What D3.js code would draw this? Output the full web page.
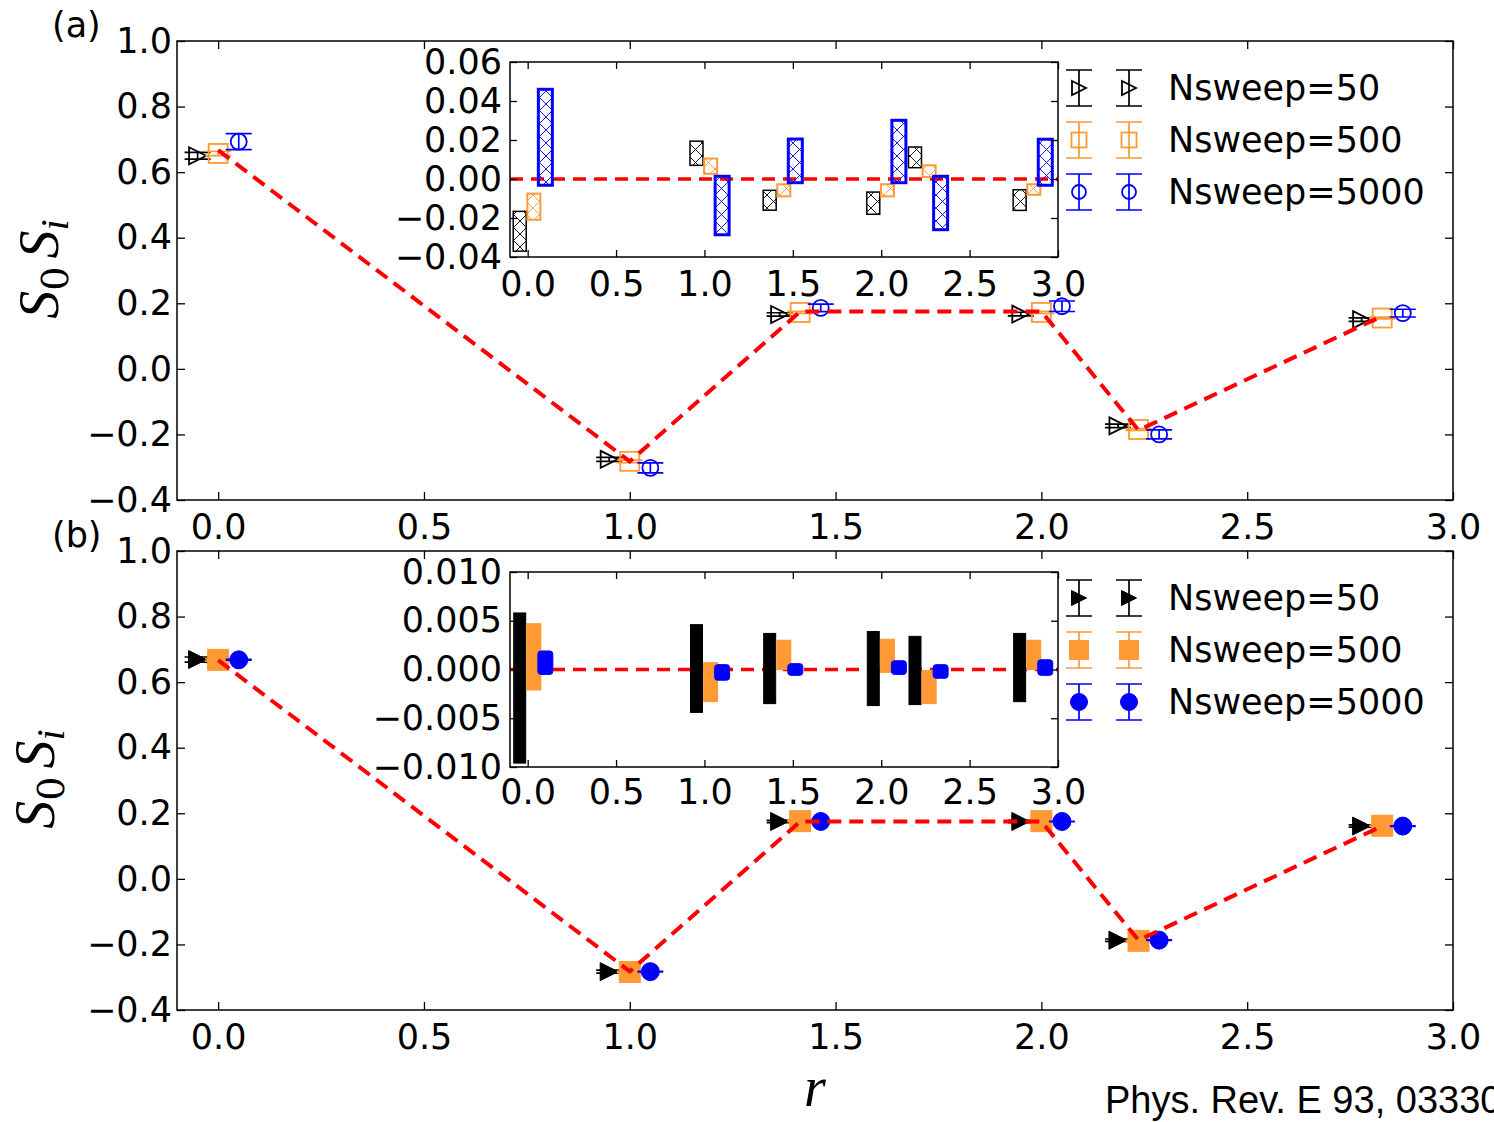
<!DOCTYPE html>
<html>
<head>
<meta charset="utf-8">
<script src="https://cdn.jsdelivr.net/npm/d3@7"></script>
<style>
body { margin: 0; background: #fff; }
svg { display: block; }
</style>
</head>
<body>
<svg width="1494" height="1122"></svg>
<script>
// distances r of the neighbour shells
var rValues = [0, 1, 1.414, 2, 2.236, 2.828];
var seriesNames = ["Nsweep=50", "Nsweep=500", "Nsweep=5000"];

// exact correlation (red dashed line)
var exact = [0.667, -0.282, 0.175, 0.175, -0.187, 0.161];

// panel (a) main values
var a50 = [0.650, -0.276, 0.166, 0.167, -0.174, 0.150];
var a500 = [0.657, -0.282, 0.172, 0.172, -0.185, 0.155];
var a5000 = [0.693, -0.302, 0.186, 0.191, -0.200, 0.170];
// panel (a) inset: deviation from exact, and error
var aDev50 = [-0.0268, 0.0132, -0.0109, -0.0124, 0.0111, -0.0108];
var aErr50 = [0.0102, 0.0062, 0.0051, 0.0057, 0.0053, 0.0053];
var aDev500 = [-0.0142, 0.0066, -0.0058, -0.0058, 0.0040, -0.0054];
var aErr500 = [0.0067, 0.0039, 0.0031, 0.0031, 0.0030, 0.0027];
var aDev5000 = [0.0214, -0.0136, 0.0093, 0.0141, -0.0123, 0.0086];
var aErr5000 = [0.0246, 0.0150, 0.0112, 0.0160, 0.0137, 0.0118];

// panel (b) main values
var b50 = [0.669, -0.283, 0.175, 0.175, -0.187, 0.161];
var b500 = [0.668, -0.284, 0.176, 0.176, -0.189, 0.162];
var b5000 = [0.668, -0.283, 0.175, 0.175, -0.187, 0.161];
// panel (b) inset
var bDev50 = [-0.0019, 0.0001, 0.0001, 0.0001, -0.0001, 0.0002];
var bErr50 = [0.0077, 0.0045, 0.0036, 0.0038, 0.0035, 0.0035];
var bDev500 = [0.0013, -0.0013, 0.0015, 0.0014, -0.0018, 0.0015];
var bErr500 = [0.0034, 0.0020, 0.0015, 0.0017, 0.0017, 0.0015];
var bDev5000 = [0.0007, -0.0003, 0.0000, 0.0002, -0.0002, 0.0002];
var bErr5000 = [0.0012, 0.0008, 0.0006, 0.0007, 0.0007, 0.0008];

var xTicks = [0, 0.5, 1, 1.5, 2, 2.5, 3];
var yTicksMain = [-0.4, -0.2, 0, 0.2, 0.4, 0.6, 0.8, 1.0];
var yTicksInsetA = [-0.04, -0.02, 0, 0.02, 0.04, 0.06];
var yTicksInsetB = [-0.01, -0.005, 0, 0.005, 0.01];

var colors = ["#000000", "#ff9933", "#0000ff"];
var kinds = ["tri", "sq", "circ"];
var FONT = "DejaVu Sans";
var FS = 35;

var svg = d3.select("svg");

// hatch patterns for the inset of (a)
var defs = svg.append("defs");
colors.forEach(function(c, i) {
  var pat = defs.append("pattern")
      .attr("id", "hatch" + i)
      .attr("patternUnits", "userSpaceOnUse")
      .attr("width", 13).attr("height", 13);
  pat.append("path")
      .attr("d", "M0,0L13,13M13,0L0,13")
      .attr("stroke", c).attr("stroke-width", 0.9).attr("fill", "none");
});

var x = d3.scaleLinear().domain([-0.1, 3.0]).range([177, 1453]);
var xi = d3.scaleLinear().domain([-0.1, 3.0]).range([510, 1058]);

function marker(sel, kind, cx, cy, color, filled, s) {
  var m;
  if (kind === "tri") {
    m = sel.append("path")
        .attr("d", "M" + (cx - s / 2) + "," + (cy - s / 2) + "L" + (cx + s / 2) + "," + cy +
                   "L" + (cx - s / 2) + "," + (cy + s / 2) + "Z");
  } else if (kind === "sq") {
    m = sel.append("rect")
        .attr("x", cx - s / 2).attr("y", cy - s / 2)
        .attr("width", s).attr("height", s);
  } else {
    m = sel.append("circle").attr("cx", cx).attr("cy", cy).attr("r", s / 2);
  }
  m.attr("fill", filled ? color : "none")
   .attr("stroke", color)
   .attr("stroke-width", filled ? 1 : 1.8);
}

function errBar(sel, cx, y1, y2, color, cap) {
  sel.append("path")
      .attr("d", "M" + cx + "," + y1 + "V" + y2 +
                 "M" + (cx - cap) + "," + y1 + "H" + (cx + cap) +
                 "M" + (cx - cap) + "," + y2 + "H" + (cx + cap))
      .attr("stroke", color).attr("stroke-width", 1.7).attr("fill", "none");
}

function styleAxis(g) {
  g.attr("font-size", FS).attr("font-family", FONT);
  g.selectAll(".tick line").attr("stroke", "#000").attr("stroke-width", 1.3);
  g.selectAll(".tick text").attr("fill", "#000");
  g.select(".domain").remove();
}

function frame(left, top, w, h, xs, ys, yTicks, fmt, tick, padX, padY) {
  var g = svg.append("g");
  g.append("g").attr("transform", "translate(0," + (top + h) + ")")
      .call(d3.axisBottom(xs).tickValues(xTicks).tickFormat(d3.format(".1f"))
        .tickSizeInner(-tick).tickSizeOuter(0).tickPadding(padX))
      .call(styleAxis);
  g.append("g").attr("transform", "translate(0," + top + ")")
      .call(d3.axisTop(xs).tickValues(xTicks).tickFormat("")
        .tickSizeInner(-tick).tickSizeOuter(0))
      .call(styleAxis);
  g.append("g").attr("transform", "translate(" + left + ",0)")
      .call(d3.axisLeft(ys).tickValues(yTicks).tickFormat(d3.format(fmt))
        .tickSizeInner(-tick).tickSizeOuter(0).tickPadding(padY))
      .call(styleAxis);
  g.append("g").attr("transform", "translate(" + (left + w) + ",0)")
      .call(d3.axisRight(ys).tickValues(yTicks).tickFormat("")
        .tickSizeInner(-tick).tickSizeOuter(0))
      .call(styleAxis);
  g.append("rect")
      .attr("x", left).attr("y", top).attr("width", w).attr("height", h)
      .attr("fill", "none").attr("stroke", "#000").attr("stroke-width", 1.5);
}

function drawPanel(p) {
  var top = p.top;
  var y = d3.scaleLinear().domain([-0.4, 1.0]).range([top + 459, top]);
  frame(177, top, 1276, 459, x, y, yTicksMain, ".1f", 8, 14, 5);

  // main series with error bars
  var offsets = [-0.05, 0, 0.05];
  var sizes = p.filled ? [18, 21, 18] : [17, 19, 16];
  var gm = svg.append("g");
  p.values.forEach(function(vals, k) {
    vals.forEach(function(v, i) {
      var cx = x(rValues[i] + offsets[k]);
      var e = p.errs[k][i];
      errBar(gm, cx, y(v - e), y(v + e), colors[k], 13);
      marker(gm, kinds[k], cx, y(v), colors[k], p.filled, sizes[k]);
    });
  });

  svg.append("path")
      .datum(rValues)
      .attr("d", d3.line().x(function(d) { return x(d); })
                          .y(function(d, i) { return y(exact[i]); }))
      .attr("fill", "none").attr("stroke", "#ff0000")
      .attr("stroke-width", 4).attr("stroke-dasharray", "14,8");

  // panel letter
  svg.append("text").attr("x", 52).attr("y", top - 4)
      .attr("font-family", FONT).attr("font-size", FS).text(p.letter);

  // y label S_0 S_i
  var lab = svg.append("text")
      .attr("transform", "translate(" + p.labelX + "," + (top + 228) + ") rotate(-90)")
      .attr("text-anchor", "middle")
      .attr("font-family", "Liberation Serif").attr("font-size", 56)
      .attr("font-style", "italic");
  lab.append("tspan").text("S");
  lab.append("tspan").attr("dy", 10).attr("font-size", 38).attr("font-style", "normal")
      .attr("font-family", "DejaVu Serif").text("0");
  lab.append("tspan").attr("dy", -10).attr("dx", 8).text("S");
  lab.append("tspan").attr("dy", 10).attr("font-size", 40).text("i");

  // inset
  var iTop = top + 21, iH = 195;
  var yi = d3.scaleLinear().domain(p.insetDomain).range([iTop + iH, iTop]);
  svg.append("rect").attr("x", 510).attr("y", iTop).attr("width", 548).attr("height", iH)
      .attr("fill", "#fff");
  var clipId = "clip" + p.letter.charAt(1);
  defs.append("clipPath").attr("id", clipId)
    .append("rect").attr("x", 510).attr("y", iTop).attr("width", 548).attr("height", iH);
  var gi = svg.append("g").attr("clip-path", "url(#" + clipId + ")");

  gi.append("line")
      .attr("x1", 510).attr("x2", 1058).attr("y1", yi(0)).attr("y2", yi(0))
      .attr("stroke", "#ff0000").attr("stroke-width", 3.5).attr("stroke-dasharray", "13,8");

  var iOff = [-0.045, 0.035, 0.1];
  var iW = p.filled ? [12, 14, 15] : [13, 13, 14];
  var iStroke = [1.5, 2, 3];
  p.devs.forEach(function(devs, k) {
    devs.forEach(function(d, i) {
      var e = p.insetErrs[k][i];
      var cx = xi(rValues[i] + iOff[k]);
      var r = gi.append("rect")
          .attr("x", cx - iW[k] / 2).attr("width", iW[k])
          .attr("y", yi(d + e)).attr("height", yi(d - e) - yi(d + e));
      if (p.filled) {
        r.attr("fill", colors[k]).attr("stroke", colors[k]).attr("stroke-width", 1)
         .attr("rx", k === 2 ? 3 : 0);
      } else {
        r.attr("fill", "url(#hatch" + k + ")").attr("stroke", colors[k])
         .attr("stroke-width", iStroke[k]);
      }
    });
  });

  frame(510, iTop, 548, iH, xi, yi, p.insetTicks, p.insetFmt, 7, p.insetPadX, 8);

  // legend
  var gl = svg.append("g");
  var lsizes = p.filled ? [15, 19, 17] : [14, 15, 14];
  seriesNames.forEach(function(name, k) {
    var cy = iTop + 26 + k * 52;
    [1079, 1129].forEach(function(cx) {
      errBar(gl, cx, cy - 18, cy + 18, colors[k], 13);
      marker(gl, kinds[k], cx, cy, colors[k], p.filled, lsizes[k]);
    });
    gl.append("text").attr("x", 1168).attr("y", cy + 12)
        .attr("font-family", FONT).attr("font-size", FS).text(name);
  });
}

drawPanel({
  top: 41, letter: "(a)", filled: false, labelX: 58,
  values: [a50, a500, a5000], errs: [aErr50, aErr500, aErr5000],
  devs: [aDev50, aDev500, aDev5000], insetErrs: [aErr50, aErr500, aErr5000],
  insetDomain: [-0.04, 0.06], insetTicks: yTicksInsetA, insetFmt: ".2f", insetPadX: 14
});

drawPanel({
  top: 551, letter: "(b)", filled: true, labelX: 54,
  values: [b50, b500, b5000], errs: [bErr50, bErr500, bErr5000],
  devs: [bDev50, bDev500, bDev5000], insetErrs: [bErr50, bErr500, bErr5000],
  insetDomain: [-0.01, 0.01], insetTicks: yTicksInsetB, insetFmt: ".3f", insetPadX: 12
});

// x label
svg.append("text").attr("x", 815).attr("y", 1106).attr("text-anchor", "middle")
    .attr("font-family", "Liberation Serif").attr("font-style", "italic")
    .attr("font-size", 56).text("r");

// source (runs off the right edge, as in the original)
svg.append("text").attr("x", 1105).attr("y", 1113)
    .attr("font-family", "Liberation Sans").attr("font-size", 38)
    .text("Phys. Rev. E 93, 033303");
</script>
</body>
</html>
